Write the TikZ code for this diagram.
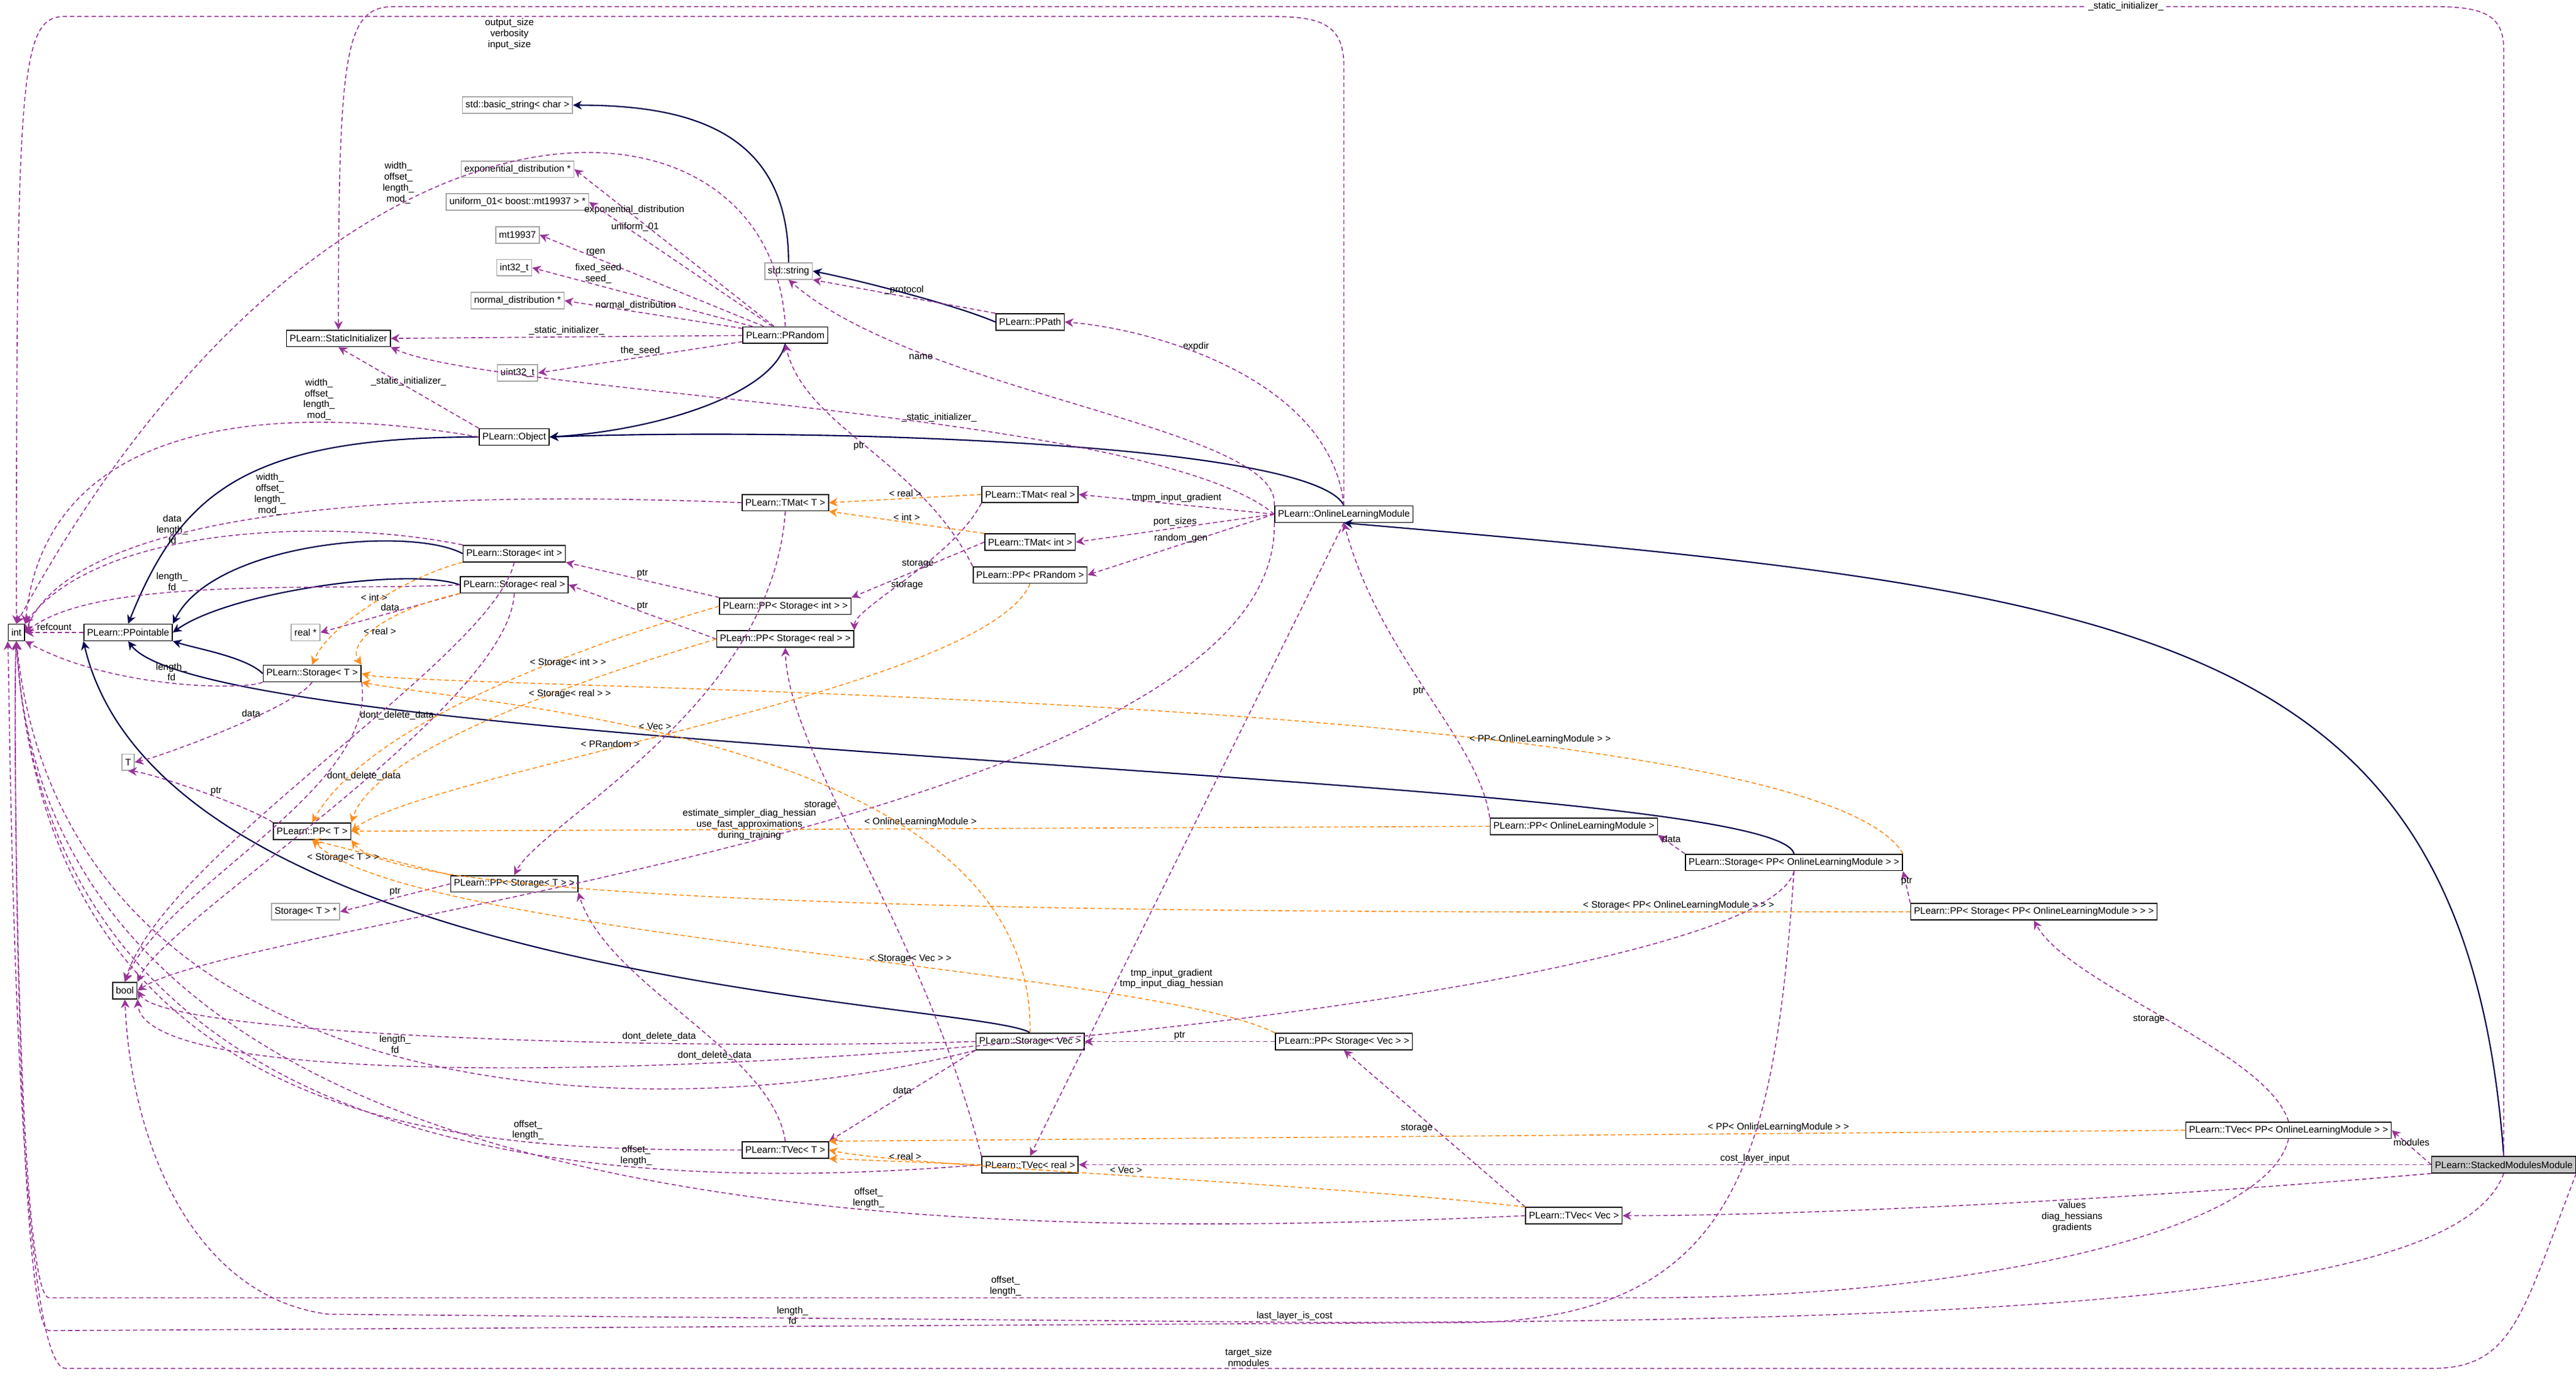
\documentclass[tikz,border=0pt]{standalone}
\usepackage{fontspec}
\setmainfont{Liberation Sans}
\usetikzlibrary{arrows.meta}

\newcommand{\lt}{\textless}
\newcommand{\gt}{\textgreater}

\tikzset{
  cls/.style={draw=black, fill=white, line width=0.35pt, inner sep=1.1pt, minimum height=0.2cm, font=\fontsize{3.3}{3.8}\selectfont},
  ext/.style={cls, draw=gray!70},
  top/.style={cls, fill=gray!45},
  inh/.style={draw=blue!30!black, line width=0.45pt, -{Stealth[length=3pt,width=3pt]}},
  use/.style={draw=violet!80, dashed, dash pattern=on 1.5pt off 1pt, line width=0.35pt, -{Stealth[length=3pt,width=3pt]}},
  tpl/.style={draw=orange!90, dashed, dash pattern=on 1.5pt off 1pt, line width=0.35pt, -{Stealth[length=3pt,width=3pt]}},
  lbl/.style={font=\fontsize{3.3}{3.8}\selectfont, align=center, inner sep=0.5pt, fill=none}
}

\begin{document}
\begin{tikzpicture}[x=0.02cm, y=-0.02cm]
  \useasboundingbox (0,0) rectangle (1568,841);

  % classes
  \node[cls] (int) at (10,385) {int};
  \node[cls] (ppointable) at (78,385) {PLearn::PPointable};
  \node[cls] (staticinit) at (206,206) {PLearn::StaticInitializer};
  \node[ext] (basicstr) at (315,64) {std::basic\_string\lt{} char \gt};
  \node[ext] (expdist) at (315,103) {exponential\_distribution *};
  \node[ext] (uniform) at (315,123) {uniform\_01\lt{} boost::mt19937 \gt{} *};
  \node[ext] (mt) at (315,143) {mt19937};
  \node[ext] (int32) at (313,163) {int32\_t};
  \node[ext] (normdist) at (315,183) {normal\_distribution *};
  \node[ext] (uint32) at (315,227) {uint32\_t};
  \node[ext] (stdstring) at (480,165) {std::string};
  \node[cls] (ppath) at (627,196) {PLearn::PPath};
  \node[cls] (prandom) at (478,204) {PLearn::PRandom};
  \node[cls] (object) at (313,266) {PLearn::Object};
  \node[cls] (tmatT) at (478,306) {PLearn::TMat\lt{} T \gt};
  \node[cls] (tmatreal) at (627,301) {PLearn::TMat\lt{} real \gt};
  \node[cls] (tmatint) at (627,330) {PLearn::TMat\lt{} int \gt};
  \node[cls] (pprandom) at (627,350) {PLearn::PP\lt{} PRandom \gt};
  \node[cls] (storint) at (313,337) {PLearn::Storage\lt{} int \gt};
  \node[cls] (storreal) at (313,356) {PLearn::Storage\lt{} real \gt};
  \node[ext] (realptr) at (186,385) {real *};
  \node[cls] (storT) at (190,410) {PLearn::Storage\lt{} T \gt};
  \node[ext] (T) at (78,464) {T};
  \node[cls] (ppT) at (190,506) {PLearn::PP\lt{} T \gt};
  \node[cls] (ppstorint) at (478,369) {PLearn::PP\lt{} Storage\lt{} int \gt{} \gt};
  \node[cls] (ppstorreal) at (478,389) {PLearn::PP\lt{} Storage\lt{} real \gt{} \gt};
  \node[cls] (olm) at (818,313) {PLearn::OnlineLearningModule};
  \node[cls] (ppolm) at (958,503) {PLearn::PP\lt{} OnlineLearningModule \gt};
  \node[cls] (storppolm) at (1092,525) {PLearn::Storage\lt{} PP\lt{} OnlineLearningModule \gt{} \gt};
  \node[cls] (ppstorppolm) at (1238,555) {PLearn::PP\lt{} Storage\lt{} PP\lt{} OnlineLearningModule \gt{} \gt{} \gt};
  \node[cls] (ppstorT) at (313,538) {PLearn::PP\lt{} Storage\lt{} T \gt{} \gt};
  \node[ext] (storTptr) at (186,555) {Storage\lt{} T \gt{} *};
  \node[cls] (bool) at (76,603) {bool};
  \node[cls] (storvec) at (627,634) {PLearn::Storage\lt{} Vec \gt};
  \node[cls] (ppstorvec) at (818,634) {PLearn::PP\lt{} Storage\lt{} Vec \gt{} \gt};
  \node[cls] (tvecT) at (478,700) {PLearn::TVec\lt{} T \gt};
  \node[cls] (tvecreal) at (627,709) {PLearn::TVec\lt{} real \gt};
  \node[cls] (tvecvec) at (958,740) {PLearn::TVec\lt{} Vec \gt};
  \node[cls] (tvecppolm) at (1393,688) {PLearn::TVec\lt{} PP\lt{} OnlineLearningModule \gt{} \gt};
  \node[top] (smm) at (1524,709) {PLearn::StackedModulesModule};

  % inheritance
  \draw[inh] (stdstring.north) .. controls (480,80) and (420,64) .. (basicstr.east);
  \draw[inh] (ppath.west) .. controls (580,185) and (520,170) .. (stdstring.east);
  \draw[inh] (prandom.south) .. controls (470,240) and (400,262) .. (object.east);
  \draw[inh] (object.west) .. controls (150,266) and (110,300) .. (ppointable.north);
  \draw[inh] (olm.north) .. controls (800,270) and (500,260) .. (object.east);
  \draw[inh] (storint.west) .. controls (250,320) and (130,330) .. (ppointable.north east);
  \draw[inh] (storreal.west) .. controls (250,345) and (140,360) .. (ppointable.east);
  \draw[inh] (storT.west) .. controls (150,400) and (120,395) .. (ppointable.south east);
  \draw[inh] (storppolm.north) .. controls (1080,470) and (130,460) .. (ppointable.south);
  \draw[inh] (storvec.north) .. controls (600,610) and (100,600) .. (ppointable.south west);
  \draw[inh] (smm.north) .. controls (1500,380) and (1300,360) .. (olm.south);

  % members
  \draw[use] (olm.north) -- (818,40) .. controls (818,12) and (800,10) .. (770,10) -- node[lbl, pos=0.63, below]{output\_size\\verbosity\\input\_size} (40,10) .. controls (12,10) and (10,40) .. (int.north);
  \draw[use] (smm.north) -- (1524,30) .. controls (1524,8) and (1510,4) .. (1480,4) -- node[lbl, pos=0.15, fill=white]{\_static\_initializer\_} (240,4) .. controls (210,4) and (206,30) .. (staticinit.north);
  \draw[use] (prandom.north) .. controls (470,40) and (200,30) .. node[lbl, pos=0.62, above]{width\_\\offset\_\\length\_\\mod\_} (int.north);
  \draw[use] (prandom) -- node[lbl, above, pos=0.7]{exponential\_distribution} (expdist.east);
  \draw[use] (prandom) -- node[lbl, above, pos=0.75]{uniform\_01} (uniform.east);
  \draw[use] (prandom) -- node[lbl, above, pos=0.75]{rgen} (mt.east);
  \draw[use] (prandom) -- node[lbl, above, pos=0.7]{fixed\_seed\\seed\_} (int32.east);
  \draw[use] (prandom) -- node[lbl, above, pos=0.6]{normal\_distribution} (normdist.east);
  \draw[use] (prandom) -- node[lbl, above]{\_static\_initializer\_} (staticinit.east);
  \draw[use] (prandom) -- node[lbl, above]{the\_seed} (uint32.east);
  \draw[use] (object.north west) -- node[lbl, above]{\_static\_initializer\_} (staticinit.south);
  \draw[use] (object.west) .. controls (200,250) and (30,240) .. node[lbl, pos=0.3, above]{width\_\\offset\_\\length\_\\mod\_} (int.north east);
  \draw[use] (ppath.north west) -- node[lbl, above]{\_protocol} (stdstring.south east);
  \draw[use] (olm.north) .. controls (810,230) and (700,200) .. node[lbl, pos=0.6, above]{expdir} (ppath.east);
  \draw[use] (olm.north west) .. controls (780,260) and (560,240) .. node[lbl, pos=0.75, below]{name} (stdstring.south);
  \draw[use] (olm.west) .. controls (700,250) and (300,240) .. node[lbl, pos=0.4, above]{\_static\_initializer\_} (staticinit.south east);
  \draw[use] (olm.west) -- node[lbl, above]{tmpm\_input\_gradient} (tmatreal.east);
  \draw[use] (olm.west) -- node[lbl, above]{port\_sizes} (tmatint.east);
  \draw[use] (olm.west) -- node[lbl, above]{random\_gen} (pprandom.east);
  \draw[use] (olm.south west) .. controls (780,500) and (150,560) .. node[lbl, pos=0.5, above]{estimate\_simpler\_diag\_hessian\\use\_fast\_approximations\\during\_training} (bool.east);
  \draw[use] (olm.south) -- node[lbl, pos=0.72, right]{tmp\_input\_gradient\\tmp\_input\_diag\_hessian} (tvecreal.north);
  \draw[use] (pprandom.north west) .. controls (560,280) and (490,260) .. node[lbl, pos=0.5, left]{ptr} (prandom.south);
  \draw[use] (tmatreal.south west) .. controls (580,340) and (520,370) .. node[lbl, pos=0.5, below]{storage} (ppstorreal.north east);
  \draw[use] (tmatint.west) -- node[lbl, above]{storage} (ppstorint.north east);
  \draw[use] (tmatT.south) .. controls (470,430) and (330,500) .. (ppstorT.north);
  \draw[use] (tmatT.west) .. controls (300,300) and (50,300) .. node[lbl, pos=0.55, above]{width\_\\offset\_\\length\_\\mod\_} (int.east);
  \draw[use] (ppstorint.north west) -- node[lbl, above]{ptr} (storint.south east);
  \draw[use] (ppstorreal.west) -- node[lbl, above]{ptr} (storreal.east);
  \draw[use] (storint.north west) .. controls (200,315) and (60,320) .. node[lbl, pos=0.6, above]{data\\length\_\\fd} (int.north east);
  \draw[use] (storint.south) .. controls (300,400) and (100,520) .. (bool.north);
  \draw[use] (storreal.west) .. controls (200,360) and (60,350) .. node[lbl, pos=0.6, above]{length\_\\fd} (int.east);
  \draw[use] (storreal.south west) -- node[lbl, above]{data} (realptr.east);
  \draw[use] (storreal.south) .. controls (310,430) and (100,560) .. node[lbl, pos=0.3, left]{dont\_delete\_data} (bool.north east);
  \draw[use] (storT.south west) .. controls (150,420) and (70,420) .. node[lbl, pos=0.5, above]{length\_\\fd} (int.south east);
  \draw[use] (storT.south) .. controls (180,430) and (100,460) .. node[lbl, pos=0.4, above]{data} (T.east);
  \draw[use] (storT.south east) .. controls (230,480) and (100,540) .. node[lbl, pos=0.3, right]{dont\_delete\_data} (bool.north);
  \draw[use] (ppointable.west) -- node[lbl, above]{refcount} (int.east);
  \draw[use] (ppT.north west) .. controls (150,490) and (90,470) .. node[lbl, pos=0.4, above]{ptr} (T.south);
  \draw[use] (ppstorT.west) -- node[lbl, above]{ptr} (storTptr.east);
  \draw[use] (ppolm.north west) .. controls (900,450) and (840,400) .. node[lbl, pos=0.5, left]{ptr} (olm.south);
  \draw[use] (storppolm.north west) -- node[lbl, above]{data} (ppolm.south east);
  \draw[use] (ppstorppolm.north west) -- node[lbl, above]{ptr} (storppolm.south east);
  \draw[use] (storppolm.south) .. controls (1070,620) and (90,700) .. node[lbl, pos=0.6, above]{dont\_delete\_data} (bool.south east);
  \draw[use] (storppolm.south) .. controls (1080,700) and (1060,800) .. (900,805) -- node[lbl, pos=0.48, above]{length\_\\fd} (30,810) .. controls (10,810) and (8,420) .. (int.south);
  \draw[use] (tvecT.north) .. controls (470,640) and (370,600) .. (ppstorT.south east);
  \draw[use] (tvecT.west) .. controls (300,700) and (30,700) .. node[lbl, pos=0.25, above]{offset\_\\length\_} (int.south);
  \draw[use] (tvecreal.north west) .. controls (560,560) and (480,460) .. node[lbl, pos=0.6, left]{storage} (ppstorreal.south);
  \draw[use] (tvecreal.west) .. controls (400,725) and (30,725) .. node[lbl, pos=0.3, above]{offset\_\\length\_} (int.south);
  \draw[use] (tvecvec.north west) -- node[lbl, left]{storage} (ppstorvec.south);
  \draw[use] (tvecvec.west) .. controls (600,755) and (30,760) .. node[lbl, pos=0.35, above]{offset\_\\length\_} (int.south);
  \draw[use] (storvec.south west) -- node[lbl, above]{data} (tvecT.north east);
  \draw[use] (storvec.west) .. controls (400,640) and (100,630) .. node[lbl, pos=0.3, above]{dont\_delete\_data} (bool.east);
  \draw[use] (storvec.south west) .. controls (400,690) and (40,680) .. node[lbl, pos=0.5, above]{length\_\\fd} (int.south);
  \draw[use] (ppstorvec.west) -- node[lbl, above]{ptr} (storvec.east);
  \draw[use] (tvecppolm.north) .. controls (1380,640) and (1260,600) .. node[lbl, pos=0.5, left]{storage} (ppstorppolm.south);
  \draw[use] (tvecppolm.south) .. controls (1380,750) and (1200,790) .. (1000,790) -- node[lbl, pos=0.4, above]{offset\_\\length\_} (30,790) .. controls (10,790) and (8,420) .. (int.south);
  \draw[use] (smm.west) -- node[lbl, above]{modules} (tvecppolm.east);
  \draw[use] (smm.west) -- node[lbl, above]{cost\_layer\_input} (tvecreal.east);
  \draw[use] (smm.south west) .. controls (1300,730) and (1100,740) .. node[lbl, pos=0.4, below]{values\\diag\_hessians\\gradients} (tvecvec.east);
  \draw[use] (smm.south) .. controls (1500,780) and (1300,805) .. (800,805) -- node[lbl, pos=0.02, above]{last\_layer\_is\_cost} (200,800) .. controls (120,790) and (80,700) .. (bool.south);
  \draw[use] (smm.south east) .. controls (1535,800) and (1530,833) .. (1480,833) -- node[lbl, pos=0.5, above]{target\_size\\nmodules} (40,833) .. controls (8,833) and (6,420) .. (int.south west);

  % template instances
  \draw[tpl] (tmatreal.west) -- node[lbl, above]{\lt{} real \gt} (tmatT.east);
  \draw[tpl] (tmatint.north west) -- node[lbl, above]{\lt{} int \gt} (tmatT.south east);
  \draw[tpl] (storint.south west) .. controls (250,350) and (200,380) .. node[lbl, pos=0.5, above]{\lt{} int \gt} (storT.north);
  \draw[tpl] (storreal.south west) .. controls (240,370) and (210,390) .. node[lbl, pos=0.5, below]{\lt{} real \gt} (storT.north east);
  \draw[tpl] (ppstorint.west) .. controls (400,380) and (230,430) .. node[lbl, pos=0.4, below]{\lt{} Storage\lt{} int \gt{} \gt} (ppT.north);
  \draw[tpl] (ppstorreal.west) .. controls (400,400) and (230,450) .. node[lbl, pos=0.4, below]{\lt{} Storage\lt{} real \gt{} \gt} (ppT.north east);
  \draw[tpl] (pprandom.south) .. controls (600,420) and (260,470) .. node[lbl, pos=0.6, above]{\lt{} PRandom \gt} (ppT.east);
  \draw[tpl] (storppolm.north east) .. controls (1100,420) and (260,420) .. node[lbl, pos=0.3, above]{\lt{} PP\lt{} OnlineLearningModule \gt{} \gt} (storT.east);
  \draw[tpl] (ppolm.west) -- node[lbl, above]{\lt{} OnlineLearningModule \gt} (ppT.east);
  \draw[tpl] (ppstorppolm.west) .. controls (900,555) and (250,560) .. node[lbl, pos=0.15, above]{\lt{} Storage\lt{} PP\lt{} OnlineLearningModule \gt{} \gt{} \gt} (ppT.south east);
  \draw[tpl] (ppstorT.north west) -- node[lbl, left]{\lt{} Storage\lt{} T \gt{} \gt} (ppT.south);
  \draw[tpl] (ppstorvec.north west) .. controls (700,590) and (250,570) .. node[lbl, pos=0.4, above]{\lt{} Storage\lt{} Vec \gt{} \gt} (ppT.south);
  \draw[tpl] (storvec.north) .. controls (630,450) and (300,430) .. node[lbl, pos=0.6, above]{\lt{} Vec \gt} (storT.south east);
  \draw[tpl] (tvecreal.west) -- node[lbl, above]{\lt{} real \gt} (tvecT.south east);
  \draw[tpl] (tvecvec.north west) .. controls (800,720) and (550,710) .. node[lbl, pos=0.5, above]{\lt{} Vec \gt} (tvecT.east);
  \draw[tpl] (tvecppolm.west) -- node[lbl, above, pos=0.3]{\lt{} PP\lt{} OnlineLearningModule \gt{} \gt} (tvecT.north east);
\end{tikzpicture}
\end{document}
